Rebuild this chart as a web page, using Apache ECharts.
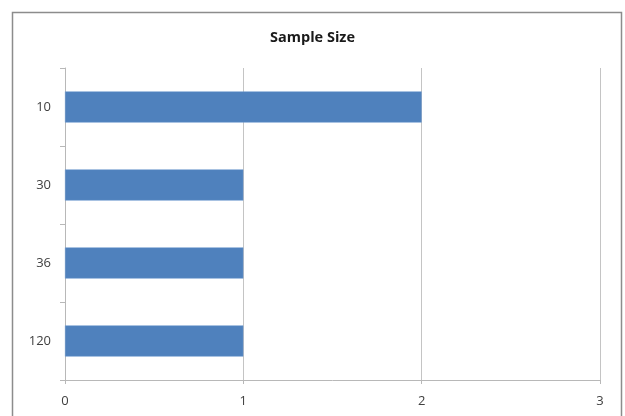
<!DOCTYPE html>
<html>
<head>
<meta charset="utf-8">
<script src="https://cdn.jsdelivr.net/npm/echarts@6/dist/echarts.min.js"></script>
<style>
  html, body { margin: 0; padding: 0; background: #fff; }
  #chart { width: 625px; height: 416px; }
</style>
</head>
<body>
<div id="chart"></div>
<script>
// Sample sizes and how many studies used each
const categories = ['10', '30', '36', '120'];
const counts = [2, 1, 1, 1];
const xTicks = [0, 1, 2, 3];

const FONT = '"Open Sans", "Liberation Sans", Arial, sans-serif';
const chart = echarts.init(document.getElementById('chart'));

chart.setOption({
  animation: false,
  backgroundColor: '#ffffff',
  title: {
    text: 'Sample Size',
    left: 'center',
    top: 25,
    textStyle: { fontFamily: FONT, fontSize: 14.5, fontWeight: 'bold', color: '#1a1a1a' }
  },
  graphic: [{
    type: 'rect',
    shape: { x: 12.5, y: 12.5, width: 609, height: 420 },
    style: { fill: 'none', stroke: '#8c8c8c', lineWidth: 1.5 },
    silent: true
  }],
  grid: { left: 65, right: 25, top: 68, bottom: 36, containLabel: false },
  xAxis: {
    type: 'value',
    min: xTicks[0],
    max: xTicks[xTicks.length - 1],
    interval: 1,
    axisLine: { show: true, lineStyle: { color: '#b8b8b8', width: 1 } },
    axisTick: { show: true, length: 4, lineStyle: { color: '#b8b8b8' } },
    splitLine: { show: true, lineStyle: { color: '#c4c4c4', width: 1 } },
    axisLabel: { margin: 15, fontFamily: FONT, fontSize: 13, color: '#404040' }
  },
  yAxis: {
    type: 'category',
    data: categories,
    inverse: true,
    axisLine: { show: true, lineStyle: { color: '#b8b8b8', width: 1 } },
    axisTick: { show: true, length: 5, lineStyle: { color: '#b8b8b8' } },
    axisLabel: { margin: 14, fontFamily: FONT, fontSize: 13, color: '#404040' }
  },
  series: [{
    type: 'bar',
    data: counts,
    barWidth: '40%',
    itemStyle: { color: '#4f81bd', borderColor: '#6f9ad0', borderWidth: 0.5 }
  }]
});
</script>
</body>
</html>
